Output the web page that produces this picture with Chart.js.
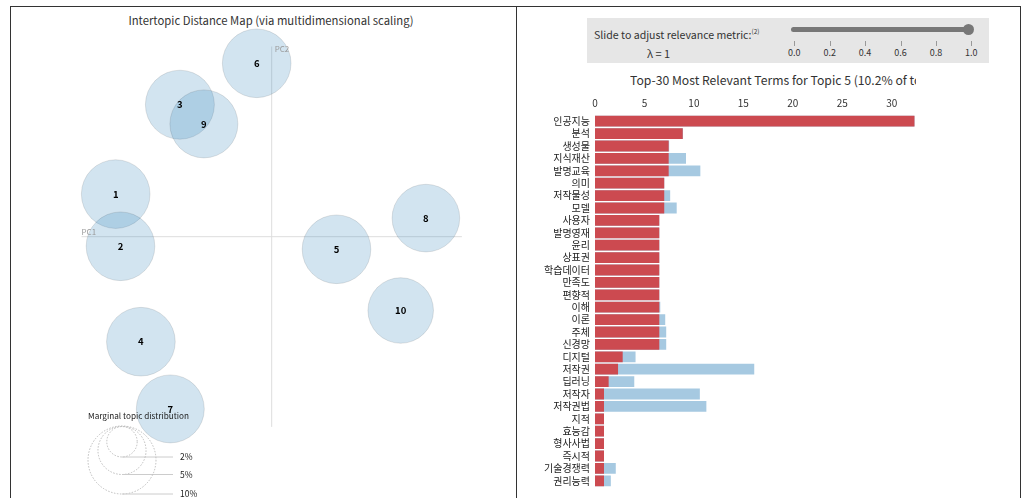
<!DOCTYPE html>
<html>
<head>
<meta charset="utf-8">
<script src="https://cdn.jsdelivr.net/npm/chart.js@4.4.0/dist/chart.umd.min.js"></script>
<style>
body { margin:0; width:1025px; height:498px; overflow:hidden; background:#fff; position:relative;
       font-family:"Noto Sans CJK KR","Noto Sans",sans-serif; color:#333; }
.abs { position:absolute; }
#frame { left:10px; top:6px; width:1009px; height:500px; border:1px solid #333; border-bottom:none; }
#divider { left:516px; top:6px; width:1px; height:492px; background:#333; }
#leftTitle { left:21px; top:12px; width:500px; text-align:center; font-size:11.3px; line-height:17px; }
#sliderBox { left:587px; top:18px; width:402px; height:45px; background:#e6e6e6; }
#sliderText { left:594px; top:23px; font-size:10.6px; line-height:16px; }
#sliderText sup { font-size:6.5px; }
#lambdaText { left:647px; top:45px; font-size:11px; line-height:16px; }
#track { left:791px; top:27px; width:180px; height:5px; border-radius:3px; background:#777; }
#knob { left:963px; top:24px; width:11px; height:11px; border-radius:50%; background:#777; }
#rightTitle { left:630px; top:72px; width:286px; overflow:hidden; white-space:nowrap; font-size:12.2px; line-height:17px; }
#mds { left:0; top:0; }
#bars { left:520px; top:90px; }
</style>
</head>
<body>
<div id="frame" class="abs"></div>
<div id="divider" class="abs"></div>
<div id="leftTitle" class="abs">Intertopic Distance Map (via multidimensional scaling)</div>
<canvas id="mds" class="abs" width="516" height="498"></canvas>

<div id="sliderBox" class="abs"></div>
<div id="sliderText" class="abs">Slide to adjust relevance metric:<sup>(2)</sup></div>
<div id="lambdaText" class="abs">&lambda; = 1</div>
<div id="track" class="abs"></div>
<div id="knob" class="abs"></div>
<div id="sliderTicks"></div>

<div id="rightTitle" class="abs">Top-30 Most Relevant Terms for Topic 5 (10.2% of tokens)</div>
<canvas id="bars" class="abs" width="505" height="408"></canvas>

<script>
// topics on the intertopic distance map
const topicIds  = ['1', '2', '3', '4', '5', '6', '7', '8', '9', '10'];
const topicPC1  = [-0.260, -0.252, -0.153, -0.218, 0.108, -0.025, -0.169, 0.257, -0.113, 0.215];
const topicPC2  = [0.071, -0.016, 0.220, -0.175, -0.021, 0.289, -0.287, 0.031, 0.188, -0.123];
const topicPct  = [10.2, 10.2, 10.3, 10.2, 10.2, 10.2, 10.0, 9.9, 10.0, 9.3];
const legendPct = [2, 5, 10];

// top-30 terms for topic 5
const terms = ['인공지능', '분석', '생성물', '지식재산', '발명교육', '의미', '저작물성', '모델', '사용자', '발명영재',
               '윤리', '상표권', '학습데이터', '만족도', '편향적', '이해', '이론', '주체', '신경망', '디지털',
               '저작권', '딥러닝', '저작자', '저작권법', '지적', '효능감', '형사사법', '즉시적', '기술경쟁력', '권리능력'];
const topicFreq = [32.3, 8.87, 7.45, 7.45, 7.45, 7.0, 7.0, 7.0, 6.5, 6.5,
                   6.5, 6.5, 6.5, 6.5, 6.5, 6.5, 6.5, 6.5, 6.5, 2.8,
                   2.33, 1.38, 0.91, 0.91, 0.91, 0.91, 0.91, 0.91, 0.91, 0.91];
const totalFreq = [32.3, 8.9, 7.5, 9.2, 10.65, 7.0, 7.6, 8.26, 6.5, 6.5,
                   6.5, 6.5, 6.5, 6.5, 6.5, 6.6, 7.1, 7.2, 7.2, 4.1,
                   16.1, 3.97, 10.6, 11.26, 0.91, 0.91, 0.91, 0.91, 2.1, 1.6];
const lambdaTicks = ['0.0', '0.2', '0.4', '0.6', '0.8', '1.0'];

const baseFont = '"Noto Sans CJK KR", "Noto Sans", sans-serif';

// circle radius from marginal share (area ~ share)
function radiusFor(pct) {
    return 34 * Math.sqrt(pct / 10);
}

// slider ticks
const tickBox = document.getElementById('sliderTicks');
lambdaTicks.forEach(function (t, i) {
    const x = 794.3 + i * 35.4;
    const mark = document.createElement('div');
    mark.className = 'abs';
    mark.style.cssText = 'left:' + x + 'px;top:41px;width:1px;height:5px;background:#999;';
    tickBox.appendChild(mark);
    const lab = document.createElement('div');
    lab.className = 'abs';
    lab.textContent = t;
    lab.style.cssText = 'left:' + (x - 15) + 'px;top:46px;width:30px;text-align:center;font-size:9px;line-height:13px;color:#333;';
    tickBox.appendChild(lab);
});

const axisHalf = 0.317;

const mdsPlugin = {
    id: 'mdsLabels',
    afterDatasetsDraw(chart) {
        const ctx = chart.ctx;
        const xs = chart.scales.x, ys = chart.scales.y;
        ctx.save();
        // axis names
        ctx.font = '8px ' + baseFont;
        ctx.fillStyle = '#999';
        ctx.textAlign = 'left';
        ctx.textBaseline = 'bottom';
        ctx.fillText('PC1', xs.getPixelForValue(-axisHalf), ys.getPixelForValue(0) - 1);
        ctx.textBaseline = 'top';
        ctx.fillText('PC2', xs.getPixelForValue(0) + 3, ys.getPixelForValue(axisHalf) - 2);
        // topic numbers
        const meta = chart.getDatasetMeta(0);
        ctx.font = 'bold 9.5px ' + baseFont;
        ctx.fillStyle = '#000';
        ctx.textAlign = 'center';
        ctx.textBaseline = 'middle';
        meta.data.forEach(function (el, i) {
            ctx.fillText(topicIds[i], el.x, el.y);
        });
        ctx.restore();
    },
    afterDraw(chart) {
        // marginal topic distribution legend
        const ctx = chart.ctx;
        ctx.save();
        ctx.font = '8.2px ' + baseFont;
        ctx.fillStyle = '#222';
        ctx.textAlign = 'left';
        ctx.textBaseline = 'middle';
        ctx.fillText('Marginal topic distribution', 88, 416);
        const cx = 122;
        const base = [457, 474.5, 494];
        legendPct.forEach(function (p, i) {
            const r = radiusFor(p);
            ctx.strokeStyle = '#bbb';
            ctx.lineWidth = 1;
            ctx.setLineDash([1.5, 1.5]);
            ctx.beginPath();
            ctx.arc(cx, base[i] - r, r, 0, Math.PI * 2);
            ctx.stroke();
            ctx.setLineDash([]);
            ctx.strokeStyle = '#ccc';
            ctx.beginPath();
            ctx.moveTo(cx, base[i]);
            ctx.lineTo(173, base[i]);
            ctx.stroke();
            ctx.fillStyle = '#222';
            ctx.font = '8.5px ' + baseFont;
            ctx.fillText(p + '%', 180, base[i]);
        });
        ctx.restore();
    }
};

new Chart(document.getElementById('mds'), {
    type: 'bubble',
    data: {
        datasets: [{
            data: topicIds.map(function (t, i) {
                return { x: topicPC1[i], y: topicPC2[i], r: radiusFor(topicPct[i]) };
            }),
            backgroundColor: 'rgba(31, 119, 180, 0.2)',
            borderColor: 'rgba(0, 0, 0, 0.1)',
            borderWidth: 1,
            clip: false,
            order: 0
        }, {
            type: 'line',
            data: [{ x: -axisHalf, y: 0 }, { x: axisHalf, y: 0 }],
            borderColor: '#ddd',
            borderWidth: 1,
            pointRadius: 0,
            order: 1
        }, {
            type: 'line',
            data: [{ x: 0, y: -axisHalf }, { x: 0, y: axisHalf }],
            borderColor: '#ddd',
            borderWidth: 1,
            pointRadius: 0,
            order: 1
        }]
    },
    options: {
        responsive: false,
        animation: false,
        layout: { padding: { left: 79.7, right: 52.3, top: 44.7, bottom: 69.3 } },
        plugins: { legend: { display: false }, tooltip: { enabled: false } },
        scales: {
            x: { type: 'linear', min: -0.32, max: 0.32, display: false },
            y: { type: 'linear', min: -0.32, max: 0.32, display: false }
        }
    },
    plugins: [mdsPlugin]
});

new Chart(document.getElementById('bars'), {
    type: 'bar',
    data: {
        labels: terms,
        datasets: [{
            label: 'Estimated term frequency within the selected topic',
            data: topicFreq,
            backgroundColor: '#cc4a50',
            grouped: false,
            barPercentage: 0.87,
            categoryPercentage: 1,
            order: 0
        }, {
            label: 'Overall term frequency',
            data: totalFreq,
            backgroundColor: '#a6c9e1',
            grouped: false,
            barPercentage: 0.87,
            categoryPercentage: 1,
            order: 1
        }]
    },
    options: {
        indexAxis: 'y',
        responsive: false,
        animation: false,
        layout: { padding: { left: 0, right: 103.6, top: 0, bottom: 4.4 } },
        plugins: { legend: { display: false }, tooltip: { enabled: false } },
        scales: {
            x: {
                position: 'top', min: 0, max: 33,
                grid: { display: false, drawTicks: false },
                border: { display: false },
                ticks: { stepSize: 5, includeBounds: false, color: '#333', font: { size: 10, family: baseFont }, padding: 6 },
                afterFit: function (scale) { scale.height = 25; }
            },
            y: {
                grid: { display: false, drawTicks: false },
                border: { display: false },
                ticks: { autoSkip: false, color: '#222', font: { size: 10, family: baseFont }, padding: 5 },
                afterFit: function (scale) { scale.width = 75; }
            }
        }
    }
});
</script>
</body>
</html>
